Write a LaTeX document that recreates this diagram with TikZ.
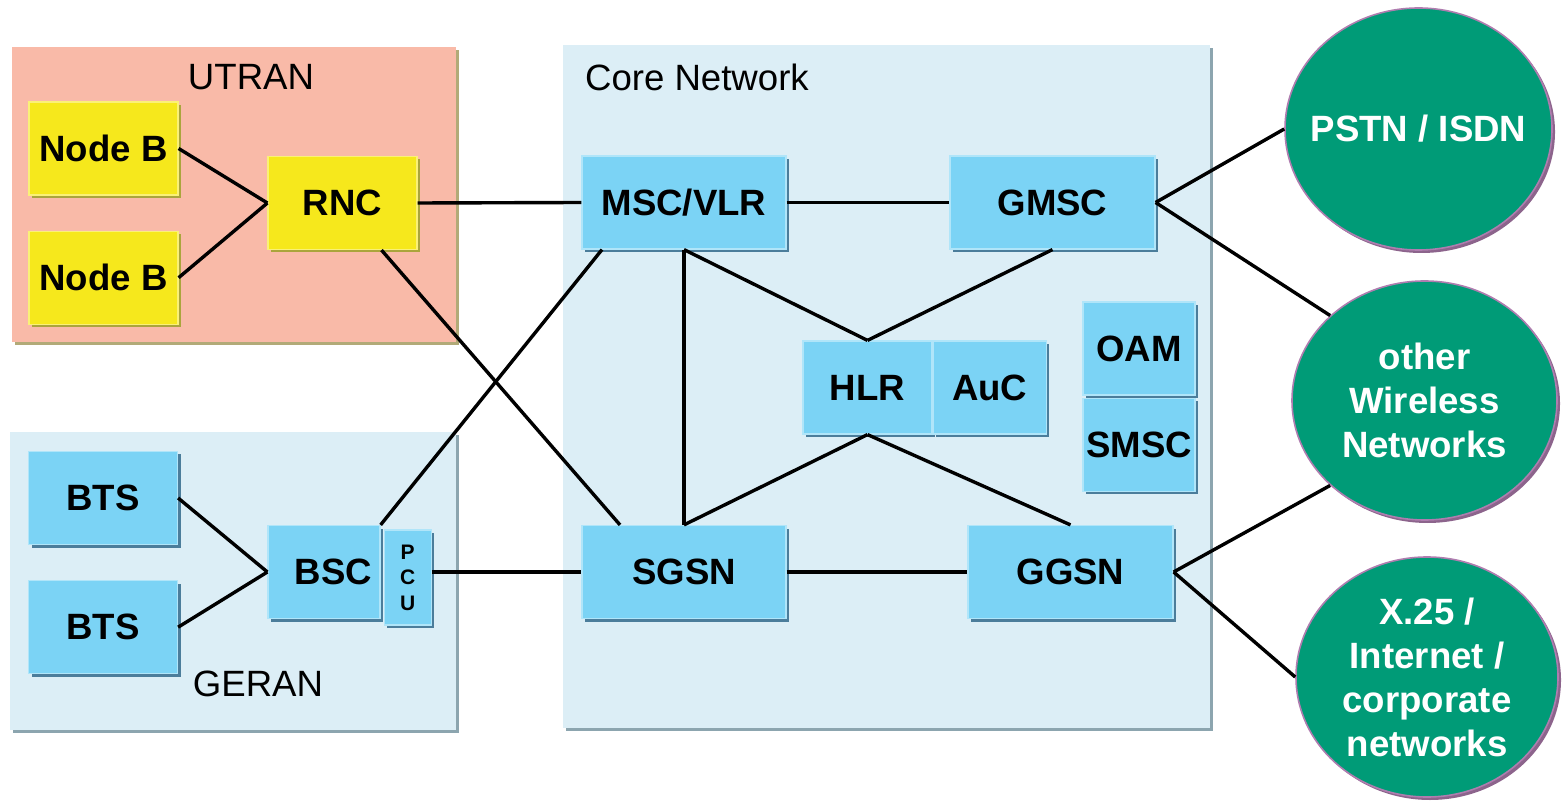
\documentclass[tikz,border=0pt]{standalone}
\usepackage{fontspec}
\setmainfont{Liberation Sans}
\usetikzlibrary{positioning}
\usetikzlibrary{shapes.geometric}
\usetikzlibrary{shadows}

\definecolor{utranfill}{RGB}{249,186,168}
\definecolor{utranshade}{RGB}{178,170,120}
\definecolor{corefill}{RGB}{220,238,246}
\definecolor{coreshade}{RGB}{140,165,175}
\definecolor{yellowbox}{RGB}{246,232,28}
\definecolor{yellowshade}{RGB}{170,165,60}
\definecolor{bluebox}{RGB}{123,211,245}
\definecolor{blueshade}{RGB}{75,125,155}
\definecolor{netfill}{RGB}{0,155,119}
\definecolor{netrim}{RGB}{175,125,175}

\begin{document}
\begin{tikzpicture}[x = 0.5pt, y = -0.5pt,
zone/.style = {drop shadow = {shadow xshift = 1.5pt, shadow yshift = -1.5pt, fill = coreshade, opacity = 1}},
uzone/.style = {fill = utranfill, drop shadow = {shadow xshift = 1.5pt, shadow yshift = -1.5pt, fill = utranshade, opacity = 1}},
ybox/.style = {shape = rectangle, fill = yellowbox, draw = yellowbox!60!white, line width = 0.6pt, minimum width = 74.5pt, minimum height = 46.5pt, inner sep = 0pt, font = \fontsize{18.3}{22}\selectfont\bfseries, drop shadow = {shadow xshift = 1.5pt, shadow yshift = -1.5pt, fill = yellowshade, opacity = 1}},
bbox/.style = {shape = rectangle, fill = bluebox, draw = bluebox!60!white, line width = 0.6pt, minimum width = 74.5pt, minimum height = 46.5pt, inner sep = 0pt, font = \fontsize{18.3}{22}\selectfont\bfseries, drop shadow = {shadow xshift = 1.5pt, shadow yshift = -1.5pt, fill = blueshade, opacity = 1}},
net/.style = {shape = ellipse, fill = netfill, draw = netrim, line width = 0.8pt, text = white, align = center, inner sep = 0pt, font = \fontsize{18.3}{22}\selectfont\bfseries, drop shadow = {shadow xshift = 1.5pt, shadow yshift = -1.5pt, fill = netrim!80!black, opacity = 1}},
zonelabel/.style = {font = \fontsize{18.3}{22}\selectfont},
link/.style = {line width = 1.7pt, black},
]
\useasboundingbox (0,0) rectangle (1562,801);

% domains
\fill[uzone] (12,47) rectangle (456,342);
\fill[zone, fill = corefill] (10,432) rectangle (456,730);
\fill[zone, fill = corefill] (563,45) rectangle (1210,728);
\node[zonelabel] (utran) at (251,77) {UTRAN};
\node[zonelabel] (geran) at (258,684) {GERAN};
\node[zonelabel, anchor = west] (core) at (578,77) {Core Network};

% UTRAN
\node[ybox] (nbA) at (103.5,148.5) {Node B};
\node[ybox] (nbB) [below = 17.5pt of nbA] {Node B};
\node[ybox] (rnc) at (342.5,203) {RNC};

% GERAN
\node[bbox] (btsA) at (103,498) {BTS};
\node[bbox] (btsB) [below = 17.5pt of btsA] {BTS};
\node[bbox, minimum width = 56pt, text width = 48pt, inner xsep = 4pt, align = right] (bsc) at (324,572) {BSC};
\node[bbox, minimum width = 23.5pt, minimum height = 47.5pt, align = center, font = \fontsize{10.5}{12.75}\selectfont\bfseries] (pcu) [right = 1.5pt of bsc, yshift = -2.75pt] {P\\C\\U};

% core network
\node[bbox, minimum width = 102pt] (msc) at (684,202.5) {MSC/VLR};
\node[bbox, minimum width = 102.5pt] (gmsc) at (1052.5,202.5) {GMSC};
\node[bbox, minimum width = 64.5pt] (hlr) at (867.5,387.5) {HLR};
\node[bbox, minimum width = 56.5pt] (auc) [right = 0pt of hlr] {AuC};
\node[bbox, minimum width = 56pt] (oam) at (1139,348.5) {OAM};
\node[bbox, minimum width = 56pt] (smsc) [below = 1pt of oam] {SMSC};
\node[bbox, minimum width = 102pt] (sgsn) at (684,572) {SGSN};
\node[bbox, minimum width = 102.5pt] (ggsn) at (1070.5,572) {GGSN};

% external networks
\node[net, minimum width = 133.5pt, minimum height = 121pt, inner xsep = -8pt] (pstn) at (1418.5,129) {PSTN / ISDN};
\node[net, minimum width = 132.5pt, minimum height = 119.5pt] (wireless) at (1424.5,400.5) {other\\Wireless\\Networks};
\node[net, minimum width = 131pt, minimum height = 120pt] (x25) at (1427,677) {X.25 /\\Internet /\\corporate\\networks};

\path[link] (nbA.east) edge (rnc.west);
\path[link] (nbB.east) edge (rnc.west);
\path[link] (rnc.east) edge (msc.west);
\path[link] ([xshift = 19.5pt]rnc.south) edge ([xshift = -32pt]sgsn.north);
\path[link] (btsA.east) edge (bsc.west);
\path[link] (btsB.east) edge (bsc.west);
\path[link] (bsc.north east) edge ([xshift = -41pt]msc.south);
\path[link] (pcu.east |- sgsn.west) edge (sgsn.west);
\path[link] (msc.east) edge (gmsc.west);
\path[link] (msc.south) edge (sgsn.north);
\path[link] (msc.south) edge (hlr.north);
\path[link] (gmsc.south) edge (hlr.north);
\path[link] (hlr.south) edge (sgsn.north);
\path[link] (hlr.south) edge (ggsn.north);
\path[link] (sgsn.east) edge (ggsn.west);
\path[link] (gmsc.east) edge (pstn.west);
\path[link] (gmsc.east) edge (wireless.138);
\path[link] (ggsn.east) edge (wireless.222);
\path[link] (ggsn.east) edge (x25.west);
\end{tikzpicture}
\end{document}
